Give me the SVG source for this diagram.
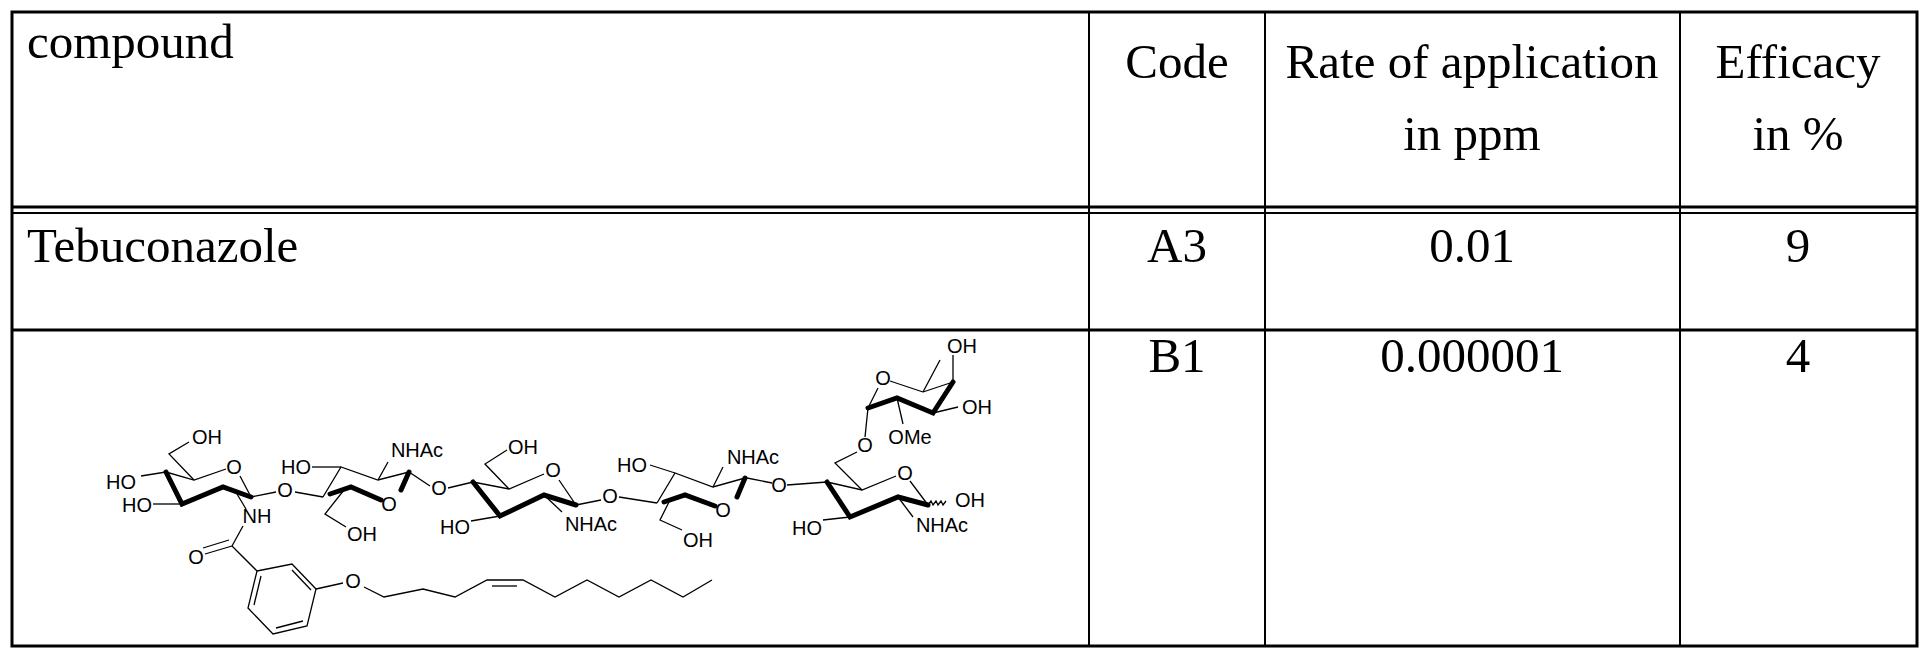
<svg xmlns="http://www.w3.org/2000/svg" width="1931" height="663" viewBox="0 0 1931 663">
<style>
.t{font-family:"Liberation Serif",serif;font-size:49px;fill:#000}
.m{text-anchor:middle}
.a{font-family:"Liberation Sans",Arial,sans-serif;font-size:20px;text-anchor:middle;dominant-baseline:central;fill:#000}
.g{stroke:#000;fill:none}
.th{stroke-width:1.3}
.bd{stroke-width:5;stroke-linecap:round}
</style>
<rect width="1931" height="663" fill="#fff"/>
<g id="table" class="g">
<rect x="12" y="12" width="1905" height="634" stroke-width="3"/>
<line x1="12" y1="207" x2="1917" y2="207" stroke-width="3"/>
<line x1="12" y1="213" x2="1917" y2="213" stroke-width="2"/>
<line x1="12" y1="330" x2="1917" y2="330" stroke-width="3"/>
<line x1="1089" y1="12" x2="1089" y2="646" stroke-width="2"/>
<line x1="1265" y1="12" x2="1265" y2="646" stroke-width="2"/>
<line x1="1680" y1="12" x2="1680" y2="646" stroke-width="2"/>
</g>
<g id="header">
<text class="t" x="27" y="58">compound</text>
<text class="t m" x="1177" y="78">Code</text>
<text class="t m" x="1472" y="78">Rate of application</text>
<text class="t m" x="1472" y="150">in ppm</text>
<text class="t m" x="1798" y="78">Efficacy</text>
<text class="t m" x="1798" y="150">in %</text>
</g>
<g id="row1">
<text class="t" x="27" y="262">Tebuconazole</text>
<text class="t m" x="1177" y="262">A3</text>
<text class="t m" x="1472" y="262">0.01</text>
<text class="t m" x="1798" y="262">9</text>
</g>
<g id="row2">
<text class="t m" x="1177" y="372">B1</text>
<text class="t m" x="1472" y="372">0.000001</text>
<text class="t m" x="1798" y="372">4</text>
</g>
<g id="structure">
<g class="g th">
<polyline points="141,476 166,472 194,480 226,469"/>
<line x1="240" y1="476" x2="251" y2="497"/>
<line x1="153" y1="504" x2="182" y2="504"/>
<polyline points="194,480 169,454 189,442"/>
<line x1="237" y1="494" x2="246" y2="509"/>
<line x1="251" y1="497" x2="276" y2="492"/>
<line x1="243" y1="526" x2="232" y2="546"/>
<line x1="232" y1="546" x2="205" y2="554"/>
<line x1="229" y1="540" x2="203" y2="548"/>
<line x1="232" y1="546" x2="257" y2="571"/>
<polygon points="257,571 292,564 316,589 307,626 273,634 248,608"/>
<line x1="254" y1="605" x2="261" y2="576"/>
<line x1="276" y1="628" x2="303" y2="621"/>
<line x1="292" y1="570" x2="311" y2="590"/>
<line x1="316" y1="589" x2="343" y2="583"/>
<polyline points="364,587 384,597 423,589 455,597 487,580 523,580 555,597 587,580 619,597 651,580 683,597 712,580"/>
<line x1="492" y1="586" x2="517" y2="586"/>
<line x1="295" y1="492" x2="323" y2="497"/>
<polyline points="323,497 341,467 378,480 409,472"/>
<line x1="312" y1="467" x2="341" y2="467"/>
<line x1="378" y1="480" x2="388" y2="462"/>
<polyline points="344,490 325,514 346,527"/>
<line x1="409" y1="472" x2="430" y2="486"/>
<line x1="448" y1="488" x2="473" y2="482"/>
<polyline points="473,482 509,489 544,474"/>
<line x1="559" y1="480" x2="576" y2="505"/>
<polyline points="509,489 485,464 507,450"/>
<line x1="471" y1="521" x2="500" y2="516"/>
<line x1="544" y1="495" x2="562" y2="512"/>
<line x1="576" y1="505" x2="601" y2="500"/>
<line x1="619" y1="497" x2="657" y2="503"/>
<polyline points="657,503 675,473 713,487 745,478"/>
<line x1="650" y1="465" x2="675" y2="473"/>
<line x1="713" y1="487" x2="723" y2="467"/>
<polyline points="670,500 660,520 682,530"/>
<line x1="747" y1="478" x2="772" y2="483"/>
<line x1="787" y1="485" x2="827" y2="482"/>
<polyline points="827,482 862,490 896,476"/>
<line x1="910" y1="481" x2="928" y2="505"/>
<line x1="823" y1="520" x2="850" y2="517"/>
<line x1="898" y1="497" x2="913" y2="517"/>
<path d="M928,505 l3,-4 l2,4 l3,-4 l2,4 l3,-4 l2,4 l3,-4"/>
<polyline points="862,490 835,463 857,452"/>
<line x1="865" y1="437" x2="868" y2="408"/>
<line x1="868" y1="408" x2="878" y2="388"/>
<line x1="890" y1="381" x2="923" y2="392"/>
<line x1="923" y1="392" x2="953" y2="382"/>
<line x1="953" y1="382" x2="953" y2="355"/>
<line x1="923" y1="392" x2="940" y2="360"/>
<line x1="933" y1="413" x2="958" y2="407"/>
<line x1="897" y1="398" x2="903" y2="424"/>
</g>
<g class="g bd">
<polyline points="166,472 182,504 223,487 251,497"/>
<polyline points="409,472 401,490"/>
<polyline points="381,500 351,487 330,494"/>
<polyline points="473,482 500,516 544,495 576,505"/>
<polyline points="745,478 737,497"/>
<polyline points="715,506 685,495 664,502"/>
<polyline points="827,482 850,517 898,497 928,505"/>
<polyline points="953,382 933,413 897,398 868,408"/>
</g>
<text class="a" x="121" y="482">HO</text>
<text class="a" x="137" y="505">HO</text>
<text class="a" x="207" y="437">OH</text>
<text class="a" x="234" y="467">O</text>
<text class="a" x="257" y="516">NH</text>
<text class="a" x="285" y="490">O</text>
<text class="a" x="196" y="557">O</text>
<text class="a" x="353" y="581">O</text>
<text class="a" x="296" y="467">HO</text>
<text class="a" x="417" y="450">NHAc</text>
<text class="a" x="389" y="504">O</text>
<text class="a" x="362" y="534">OH</text>
<text class="a" x="439" y="488">O</text>
<text class="a" x="523" y="447">OH</text>
<text class="a" x="553" y="470">O</text>
<text class="a" x="455" y="527">HO</text>
<text class="a" x="591" y="524">NHAc</text>
<text class="a" x="610" y="496">O</text>
<text class="a" x="632" y="465">HO</text>
<text class="a" x="753" y="457">NHAc</text>
<text class="a" x="723" y="510">O</text>
<text class="a" x="698" y="540">OH</text>
<text class="a" x="779" y="485">O</text>
<text class="a" x="905" y="473">O</text>
<text class="a" x="807" y="528">HO</text>
<text class="a" x="942" y="525">NHAc</text>
<text class="a" x="970" y="500">OH</text>
<text class="a" x="865" y="445">O</text>
<text class="a" x="883" y="378">O</text>
<text class="a" x="910" y="437">OMe</text>
<text class="a" x="962" y="346">OH</text>
<text class="a" x="977" y="407">OH</text>
</g>
</svg>
